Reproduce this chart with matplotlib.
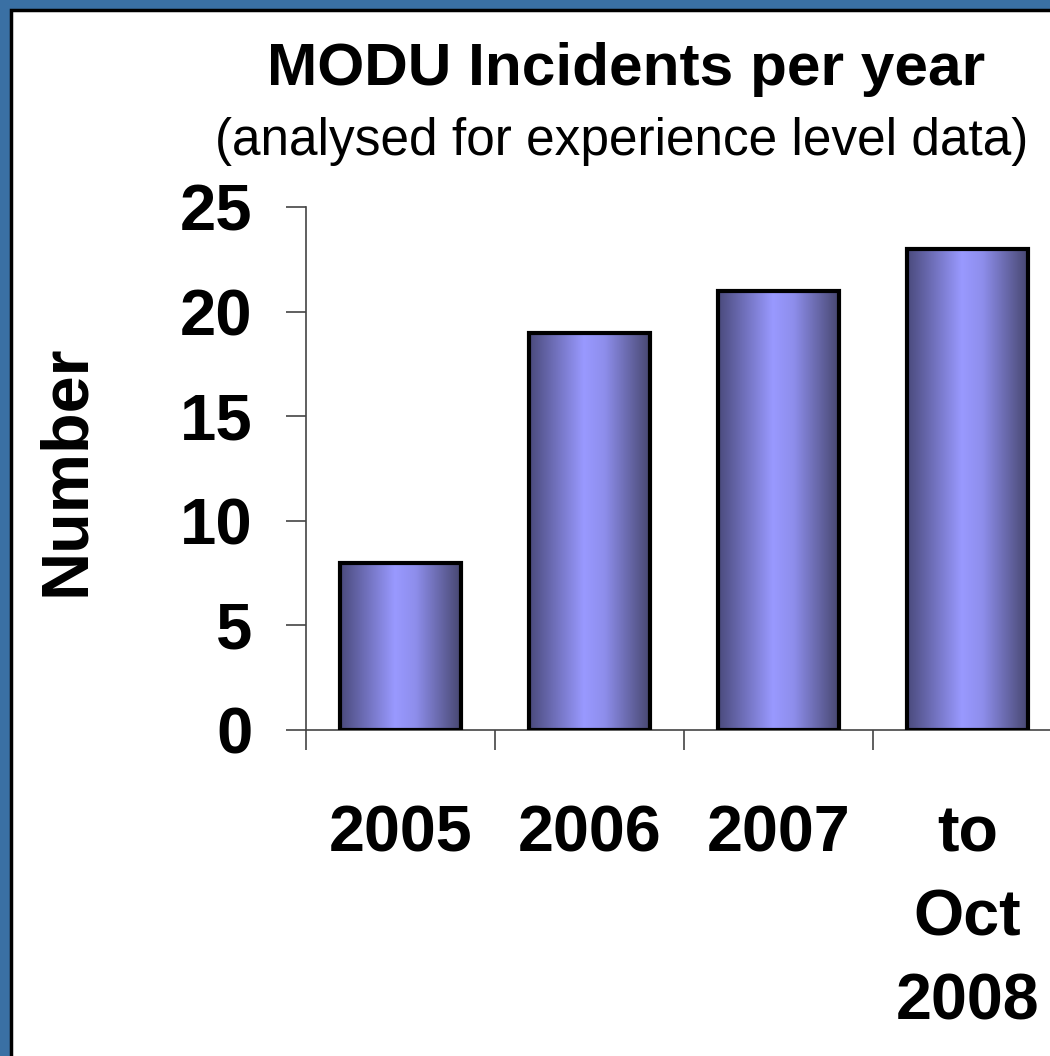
import numpy as np
import matplotlib
matplotlib.use("Agg")
import matplotlib.pyplot as plt
from matplotlib.colors import LinearSegmentedColormap
from matplotlib.patches import Rectangle

categories = ["2005", "2006", "2007", "to\nOct\n2008"]
values = [8, 19, 21, 23]
yticks = [0, 5, 10, 15, 20, 25]
title = "MODU Incidents per year"
subtitle = "(analysed for experience level data)"
ylabel = "Number"

plt.rcParams['font.family'] = ['Liberation Sans', 'DejaVu Sans']

fig = plt.figure(figsize=(10.5, 10.56), dpi=100)
fig.patch.set_facecolor('#3a70a4')
# white panel with black border
panel = Rectangle((11 / 1050, -0.1), 1.2, 1 - 10 / 1056 + 0.1, transform=fig.transFigure,
                  facecolor='white', edgecolor='black', linewidth=2.5, zorder=-10)
fig.patches.append(panel)

ax = fig.add_axes([306 / 1050, 1 - 730 / 1056, (1062 - 306) / 1050, (730 - 207) / 1056])
ax.set_facecolor('none')

x = np.arange(len(categories))
bars = ax.bar(x, values, width=0.645, facecolor='none', edgecolor='black', linewidth=3.0, zorder=3)

cmap = LinearSegmentedColormap.from_list('bar', [(0.0, '#4a4a7c'), (0.45, '#9999ff'), (0.62, '#8e8eec'), (1.0, '#46466e')])
grad = np.linspace(0, 1, 256).reshape(1, -1)
for b in bars:
    x0, w, h = b.get_x(), b.get_width(), b.get_height()
    im = ax.imshow(grad, extent=[x0, x0 + w, 0, h], aspect='auto', cmap=cmap, zorder=2, origin='lower')
    im.set_clip_path(b)

ax.set_xlim(-0.5, len(categories) - 0.5)
ax.set_ylim(0, 25)
ax.set_yticks(yticks)
ax.set_yticklabels([str(v) for v in yticks], fontsize=47, fontweight='bold')
ax.set_xticks(x)
ax.set_xticklabels(categories, fontsize=46.5, fontweight='bold', linespacing=1.5, va='top')
ax.set_xticks(np.arange(len(categories) + 1) - 0.5, minor=True)
ax.tick_params(axis='x', which='major', length=0, pad=54)
ax.tick_params(axis='x', which='minor', length=14.5, width=1.2, color='#444444', direction='out')
ax.tick_params(axis='y', length=14.5, width=1.2, color='#444444', direction='out', pad=24)

for s in ['top', 'right']:
    ax.spines[s].set_visible(False)
for s in ['left', 'bottom']:
    ax.spines[s].set_color('#444444')
    ax.spines[s].set_linewidth(1.2)

fig.text(67 / 1050, 1 - 470 / 1056, ylabel, rotation=90, fontsize=48, fontweight='bold', ha='center', va='center')
fig.text(626 / 1050, 1 - 85 / 1056, title, fontsize=43.5, fontweight='bold', ha='center', va='baseline')
fig.text(622 / 1050, 1 - 155 / 1056, subtitle, fontsize=37, ha='center', va='baseline')

fig.savefig('out.png', dpi=100)
